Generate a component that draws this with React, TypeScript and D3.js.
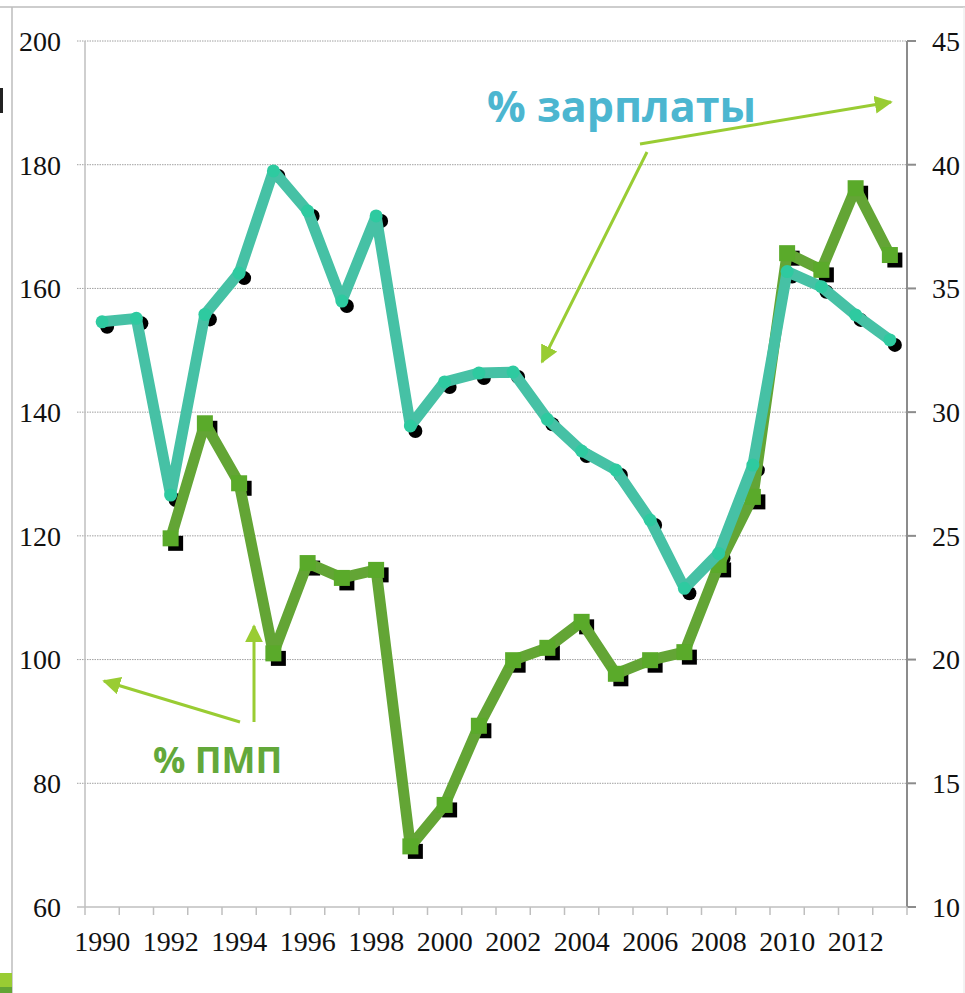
import * as d3 from 'd3';
import { useEffect, useRef } from 'react';

const years = d3.range(1990, 2014);

// % зарплаты (right axis), 1990-2013
const wageShare = [
  33.65, 33.79, 26.65, 33.95, 35.62, 39.75, 38.13, 34.49, 37.93, 29.44, 31.22, 31.58,
  31.62, 29.71, 28.43, 27.66, 25.64, 22.88, 24.29, 27.86, 35.68, 35.07, 33.93, 32.92,
];

// % ПМП (left axis), 1992-2013
const pmpYears = d3.range(1992, 2014);
const pmpShare = [
  119.6, 138.2, 128.5, 101.0, 115.6, 113.2, 114.5, 69.8, 76.5, 89.3, 99.9,
  101.9, 106.1, 97.7, 99.9, 101.2, 115.3, 126.3, 165.7, 163.0, 176.2, 165.4,
];

const leftTicks = [60, 80, 100, 120, 140, 160, 180, 200];
const rightTicks = [10, 15, 20, 25, 30, 35, 40, 45];
const yearLabels = d3.range(1990, 2014, 2);

const SERIF = "'Liberation Serif', 'Times New Roman', 'DejaVu Serif', serif";

const Chart = () => {
  const ref = useRef<SVGSVGElement | null>(null);

  useEffect(() => {
    const width = 965;
    const height = 993;
    const left = 85;
    const right = 907;
    const top = 41;
    const bottom = 907;

    const svg = d3.select(ref.current).attr('width', width).attr('height', height);
    svg.selectAll('*').remove();

    const x = d3.scaleBand<number>().domain(years).range([left, right]);
    const yL = d3.scaleLinear().domain([60, 200]).range([bottom, top]);
    const yR = d3.scaleLinear().domain([10, 45]).range([bottom, top]);
    const cx = (yr: number) => (x(yr) as number) + x.bandwidth() / 2;

    // frame bits around the slide
    svg.append('line').attr('x1', 0).attr('x2', width).attr('y1', 7).attr('y2', 7)
      .attr('stroke', '#bdbdbd').attr('stroke-width', 1.5);
    svg.append('line').attr('x1', 12).attr('x2', 12).attr('y1', 7).attr('y2', height)
      .attr('stroke', '#bdbdbd').attr('stroke-width', 1.5);
    svg.append('line').attr('x1', 964).attr('x2', 964).attr('y1', 7).attr('y2', height)
      .attr('stroke', '#e6e6e6').attr('stroke-width', 1);
    svg.append('rect').attr('x', 0).attr('y', 88).attr('width', 3).attr('height', 25).attr('fill', '#222');
    svg.append('rect').attr('x', 0).attr('y', 973).attr('width', 12).attr('height', 14).attr('fill', '#99cc33');
    svg.append('rect').attr('x', 0).attr('y', 987).attr('width', 12).attr('height', 6).attr('fill', '#63a535');

    // gridlines
    svg.append('g').selectAll('line').data(leftTicks.slice(1)).join('line')
      .attr('x1', left - 8).attr('x2', right)
      .attr('y1', (d) => yL(d)).attr('y2', (d) => yL(d))
      .attr('stroke', '#a0a0a0').attr('stroke-width', 1).attr('stroke-dasharray', '1.5,1');

    // left axis
    const gl = svg.append('g');
    gl.append('line').attr('x1', left).attr('x2', left).attr('y1', top).attr('y2', bottom)
      .attr('stroke', '#bfbfbf').attr('stroke-width', 1.5);
    gl.selectAll('text').data(leftTicks).join('text')
      .attr('x', 61).attr('y', (d) => yL(d)).attr('dy', '0.35em')
      .attr('text-anchor', 'end').style('font-family', SERIF)
      .style('font-size', '28px').attr('fill', '#111').text((d) => d);

    // right axis
    const gr = svg.append('g');
    gr.append('line').attr('x1', right).attr('x2', right).attr('y1', top).attr('y2', bottom)
      .attr('stroke', '#8c8c8c').attr('stroke-width', 2);
    gr.selectAll('line.t').data(rightTicks).join('line').attr('class', 't')
      .attr('x1', right).attr('x2', right + 9)
      .attr('y1', (d) => yR(d)).attr('y2', (d) => yR(d))
      .attr('stroke', '#8c8c8c').attr('stroke-width', 2);
    gr.selectAll('text').data(rightTicks).join('text')
      .attr('x', 932).attr('y', (d) => yR(d)).attr('dy', '0.35em')
      .style('font-family', SERIF)
      .style('font-size', '28px').attr('fill', '#111').text((d) => d);

    // bottom axis
    const gb = svg.append('g');
    gb.append('line').attr('x1', left - 8).attr('x2', right).attr('y1', bottom).attr('y2', bottom)
      .attr('stroke', '#bfbfbf').attr('stroke-width', 1.5);
    const bounds = years.map((yr) => x(yr) as number).concat([right]);
    gb.selectAll('line.t').data(bounds).join('line').attr('class', 't')
      .attr('x1', (d) => d).attr('x2', (d) => d).attr('y1', bottom).attr('y2', bottom + 8)
      .attr('stroke', '#bfbfbf').attr('stroke-width', 1.5);
    gb.selectAll('text').data(yearLabels).join('text')
      .attr('x', (d) => cx(d)).attr('y', 951).attr('text-anchor', 'middle')
      .style('font-family', SERIF)
      .style('font-size', '28px').attr('fill', '#111').text((d) => d);

    const wagePts: [number, number][] = years.map((yr, i) => [cx(yr), yR(wageShare[i])]);
    const pmpPts: [number, number][] = pmpYears.map((yr, i) => [cx(yr), yL(pmpShare[i])]);
    const line = d3.line();

    // black marker shadows
    const sh = svg.append('g').attr('transform', 'translate(5,5)');
    sh.selectAll('rect').data(pmpPts).join('rect')
      .attr('x', (d) => d[0] - 7.5).attr('y', (d) => d[1] - 7.5)
      .attr('width', 15).attr('height', 15).attr('fill', '#000');
    sh.selectAll('circle').data(wagePts).join('circle')
      .attr('cx', (d) => d[0]).attr('cy', (d) => d[1]).attr('r', 7).attr('fill', '#000');

    // % ПМП line
    svg.append('path').attr('d', line(pmpPts)).attr('fill', 'none')
      .attr('stroke', '#63a535').attr('stroke-width', 11).attr('stroke-linejoin', 'round');
    svg.append('g').selectAll('rect').data(pmpPts).join('rect')
      .attr('x', (d) => d[0] - 8).attr('y', (d) => d[1] - 8)
      .attr('width', 16).attr('height', 16).attr('fill', '#5aaa2a');

    // % зарплаты line
    svg.append('path').attr('d', line(wagePts)).attr('fill', 'none')
      .attr('stroke', '#46c1a5').attr('stroke-width', 11).attr('stroke-linejoin', 'round');
    svg.append('g').selectAll('circle').data(wagePts).join('circle')
      .attr('cx', (d) => d[0]).attr('cy', (d) => d[1]).attr('r', 6.5).attr('fill', '#2ecaa0');

    // annotations
    const defs = svg.append('defs');
    defs.append('marker').attr('id', 'ah').attr('viewBox', '0 0 10 10')
      .attr('refX', 9).attr('refY', 5).attr('markerWidth', 6).attr('markerHeight', 6)
      .attr('markerUnits', 'strokeWidth').attr('orient', 'auto')
      .append('path').attr('d', 'M0,0 L10,5 L0,10 z').attr('fill', '#99cc33');

    const arrows = [
      [640, 144, 891, 102],
      [647, 152, 542, 362],
      [240, 722, 104, 681],
      [254, 722, 254, 626],
    ];
    svg.append('g').selectAll('line').data(arrows).join('line')
      .attr('x1', (d) => d[0]).attr('y1', (d) => d[1]).attr('x2', (d) => d[2]).attr('y2', (d) => d[3])
      .attr('stroke', '#99cc33').attr('stroke-width', 3).attr('marker-end', 'url(#ah)');

    svg.append('text').attr('x', 487).attr('y', 122)
      .style('font-family', "'Open Sans', sans-serif").attr('font-weight', 700)
      .style('font-size', '43px').attr('fill', '#4cb6d0').text('% зарплаты');
    svg.append('text').attr('x', 153).attr('y', 773)
      .style('font-family', "'Open Sans', sans-serif").attr('font-weight', 700)
      .style('font-size', '36px').attr('fill', '#63a83a').text('% ПМП');
  }, []);

  return <svg ref={ref} style={{ position: 'absolute', left: 0, top: 0 }}></svg>;
};

export default function App() {
  return <Chart />;
}
